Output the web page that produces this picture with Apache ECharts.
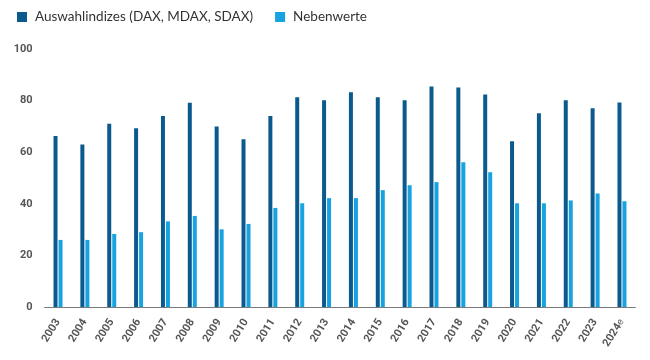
<!DOCTYPE html>
<html>
<head>
<meta charset="utf-8">
<script src="https://cdn.jsdelivr.net/npm/echarts@6/dist/echarts.min.js"></script>
<style>html,body{margin:0;padding:0;background:#fff}#c{width:650px;height:360px}</style>
</head>
<body>
<div id="c"></div>
<script>
const categories = ['2003','2004','2005','2006','2007','2008','2009','2010','2011','2012','2013','2014','2015','2016','2017','2018','2019','2020','2021','2022','2023','2024e'];
const auswahlindizes = [66.3,63,71,69.3,74,79.2,70,65,74,81.3,80.1,83.2,81.3,80.1,85.5,85.1,82.4,64.2,75.1,80.1,77,79.3];
const nebenwerte = [26,26,28.3,29,33.2,35.3,30.1,32.2,38.4,40.2,42.2,42.2,45.3,47.2,48.4,56.1,52.2,40.2,40.2,41.3,44,41];
const yTicks = [0,20,40,60,80,100];

const chart = echarts.init(document.getElementById('c'), null, {renderer:'canvas'});
chart.setOption({
  animation: false,
  textStyle: {fontFamily: 'Roboto'},
  legend: {
    left: 12, top: 5, itemWidth: 10, itemHeight: 10, itemGap: 22, icon: 'rect',
    textStyle: {fontFamily: 'Lato', fontSize: 13.5, color: '#333', padding:[0,0,0,3]},
    data: ['Auswahlindizes (DAX, MDAX, SDAX)', 'Nebenwerte']
  },
  grid: {left: 44.6, right: 14.6, top: 49, bottom: 53},
  xAxis: {
    type: 'category', data: categories, boundaryGap: true,
    axisLine: {lineStyle: {color: '#7a7a7a', width: 1}},
    axisTick: {show: false},
    axisLabel: {
      rotate: 58, fontSize: 11, fontWeight: 'bold', color: '#555', margin: 13, interval: 0,
      formatter: function (v) {
        const m = v.match(/^(\d+)(e?)$/);
        return m && m[2] ? '{b|' + m[1] + '}{e|' + m[2] + '}' : '{b|' + v + '}';
      },
      rich: {
        b: {fontSize: 11, fontWeight: 'bold', color: '#555', fontFamily: 'Roboto'},
        e: {fontSize: 10, fontWeight: 'normal', color: '#666', fontFamily: 'Roboto'}
      }
    }
  },
  yAxis: {
    type: 'value', min: yTicks[0], max: yTicks[yTicks.length-1], interval: 20,
    splitLine: {show: false}, axisLine: {show: false}, axisTick: {show: false},
    axisLabel: {fontSize: 11, fontWeight: 'bold', color: '#555', margin: 12}
  },
  series: [
    {name: 'Auswahlindizes (DAX, MDAX, SDAX)', type: 'bar', data: auswahlindizes, barWidth: 4, barGap: '25%', itemStyle: {color: '#0b5a8e'}},
    {name: 'Nebenwerte', type: 'bar', data: nebenwerte, barWidth: 4, itemStyle: {color: '#17a3df'}}
  ]
});
</script>
</body>
</html>
